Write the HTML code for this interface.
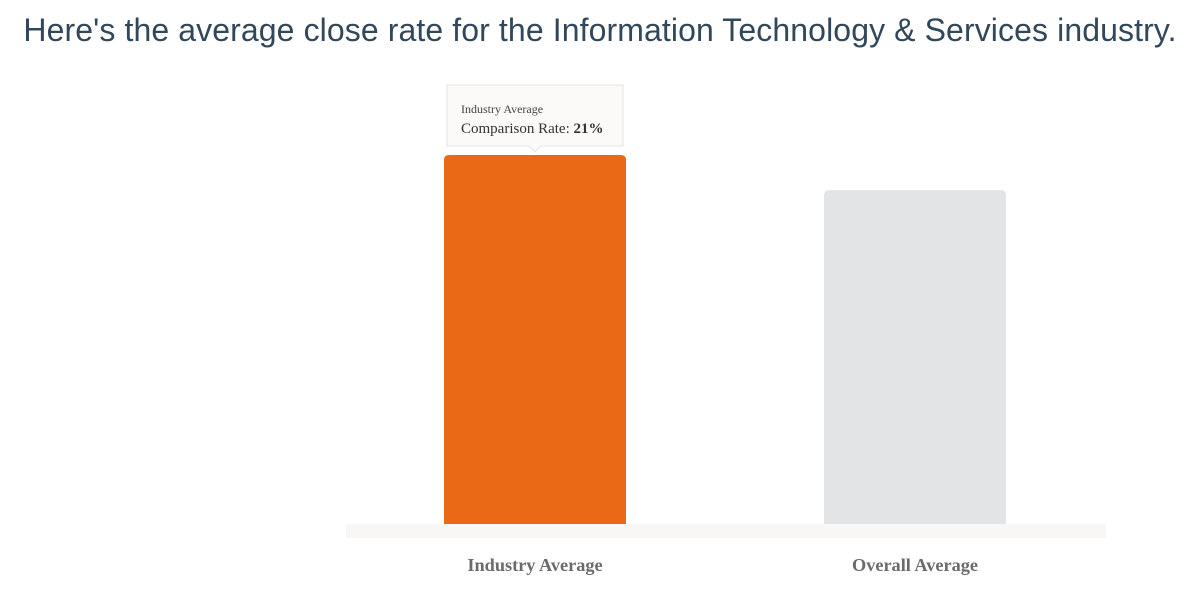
<!DOCTYPE html>
<html><head><meta charset="utf-8"><style>
body{margin:0;width:1200px;height:592px;background:#fff;overflow:hidden;font-family:"Liberation Sans",sans-serif}
h1{position:absolute;left:0;top:12px;width:1200px;margin:0;text-align:center;font-size:32px;font-weight:normal;color:#33475b;letter-spacing:0.1px;white-space:nowrap}
</style></head><body>
<h1>Here's the average close rate for the Information Technology &amp; Services industry.</h1>
<svg id="chart" width="1200" height="592" style="position:absolute;left:0;top:0"></svg>
<script>
const categories=["Industry Average","Overall Average"];
const values=[21,19];
const colors=["#e96916","#e3e4e6"];
const svg=document.getElementById('chart');
const NS='http://www.w3.org/2000/svg';
const baseY=524, pxPer=369/21;
const y=v=>baseY-v*pxPer;
const xLeft=[444,824], bw=182;
function mk(t,a){const e=document.createElementNS(NS,t);for(const k in a)e.setAttribute(k,a[k]);svg.appendChild(e);return e;}
const base=mk('rect',{x:346,y:524,width:760,height:14,fill:'#f8f7f5'});


categories.forEach((c,i)=>{
  const top=y(values[i]);
  const b=mk('path',{d:`M${xLeft[i]},${baseY} V${top+5} Q${xLeft[i]},${top} ${xLeft[i]+5},${top} H${xLeft[i]+bw-5} Q${xLeft[i]+bw},${top} ${xLeft[i]+bw},${top+5} V${baseY} Z`,fill:colors[i]});
  
  
  const t=mk('text',{x:xLeft[i]+bw/2,y:571,'text-anchor':'middle','font-family':'Liberation Serif, serif','font-size':'18.3','font-weight':'bold',fill:'#6b6b6b'});
  t.textContent=c;
  
  
});
const tx=xLeft[0]+bw/2, ty=y(values[0]);
const g=document.createElementNS(NS,'g');svg.appendChild(g);


const tp=document.createElementNS(NS,'path');
tp.setAttribute('d',`M${tx-88},${ty-70} H${tx+88} V${ty-9} H${tx+6} L${tx},${ty-3} L${tx-6},${ty-9} H${tx-88} Z`);
tp.setAttribute('fill','#fbfaf9');tp.setAttribute('stroke','#e6e4e1');g.appendChild(tp);
const t1=document.createElementNS(NS,'text');t1.setAttribute('x',tx-74);t1.setAttribute('y',ty-42);
t1.setAttribute('font-family','Liberation Serif, serif');t1.setAttribute('font-size','12');t1.setAttribute('fill','#444');
t1.textContent=categories[0];g.appendChild(t1);
const t2=document.createElementNS(NS,'text');t2.setAttribute('x',tx-74);t2.setAttribute('y',ty-22);
t2.setAttribute('font-family','Liberation Serif, serif');t2.setAttribute('font-size','15');t2.setAttribute('fill','#333');
t2.innerHTML='Comparison Rate: <tspan font-weight="bold">'+values[0]+'%</tspan>';g.appendChild(t2);
</script>
</body></html>
